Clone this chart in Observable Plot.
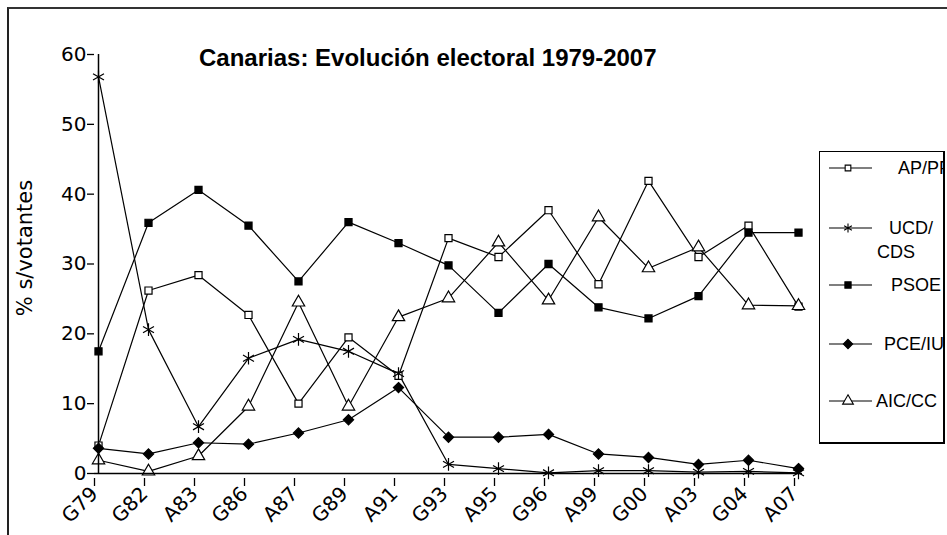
<!DOCTYPE html>
<html><head><meta charset="utf-8">
<script src="https://cdn.jsdelivr.net/npm/d3@7"></script>
<script src="https://cdn.jsdelivr.net/npm/@observablehq/plot@0.6"></script>
<style>
body{margin:0;background:#fff;overflow:hidden}
#wrap{position:relative;width:947px;height:535px;overflow:hidden;background:#fff}
#frame{position:absolute;left:7px;top:7px;width:960px;height:560px;border-left:2px solid #222;border-top:2px solid #333;box-sizing:border-box}
#chart{position:absolute;left:0;top:0}
#title{position:absolute;left:199px;top:46px;font:bold 24px "Liberation Sans",Arial,sans-serif;line-height:1;white-space:nowrap;color:#000}
#ylabel{position:absolute;left:25px;top:248px;transform:translate(-50%,-50%) rotate(-90deg);font:21px "DejaVu Sans",sans-serif;white-space:nowrap;color:#000}
#legend{position:absolute;left:819px;top:151px;width:126px;height:293px;border:1.5px solid #000;border-right-width:2px;border-bottom-width:2px;box-sizing:border-box;overflow:hidden;background:#fff}
.lt{position:absolute;font:18px "Liberation Sans",Arial,sans-serif;line-height:1;white-space:nowrap;color:#000}
</style></head><body><div id="wrap"><div id="frame"></div><div id="chart"></div>
<div id="title">Canarias: Evolución electoral 1979-2007</div>
<div id="ylabel">% s/votantes</div>
<div id="legend"></div></div>
<script>
const labels = ["G79","G82","A83","G86","A87","G89","A91","G93","A95","G96","A99","G00","A03","G04","A07"];
const parties = ["AP/PP","UCD/CDS","PSOE","PCE/IU","AIC/CC"];
const apPP   = [4.0, 26.2, 28.4, 22.7, 10.0, 19.5, 14.0, 33.7, 31.0, 37.7, 27.1, 41.9, 31.0, 35.5, 23.9];
const ucdCDS = [56.8, 20.6, 6.7, 16.5, 19.2, 17.5, 14.3, 1.3, 0.7, 0.1, 0.4, 0.4, 0.2, 0.3, 0.1];
const psoe   = [17.5, 35.9, 40.6, 35.5, 27.5, 36.0, 33.0, 29.8, 23.0, 30.0, 23.8, 22.2, 25.4, 34.5, 34.5];
const pceIU  = [3.6, 2.8, 4.4, 4.2, 5.8, 7.7, 12.3, 5.2, 5.2, 5.6, 2.8, 2.3, 1.3, 1.9, 0.7];
const aicCC  = [1.9, 0.3, 2.5, 9.6, 24.5, 9.6, 22.4, 25.1, 33.1, 24.8, 36.7, 29.4, 32.4, 24.1, 24.0];
const yTicks = [0, 10, 20, 30, 40, 50, 60];

const seriesValues = [apPP, ucdCDS, psoe, pceIU, aicCC];
const data = parties.flatMap((p, i) => seriesValues[i].map((v, j) => ({party: p, label: labels[j], value: v})));

const styles = {
  "AP/PP":   {symbol: "square",   fill: "white", stroke: "black", r: 4.0, lr: 3.2},
  "UCD/CDS": {symbol: "asterisk", fill: "none",  stroke: "black", r: 6.0, lr: 4.2},
  "PSOE":    {symbol: "square",   fill: "black", stroke: "black", r: 4.0, lr: 3.5},
  "PCE/IU":  {symbol: "diamond2", fill: "black", stroke: "black", r: 4.6, lr: 4.2},
  "AIC/CC":  {symbol: "triangle", fill: "white", stroke: "black", r: 4.6, lr: 4.0}
};

const dotMarks = parties.map(p => Plot.dot(data.filter(d => d.party === p), {
  x: "label", y: "value", symbol: () => styles[p].symbol, r: styles[p].r,
  fill: styles[p].fill, stroke: styles[p].stroke, strokeWidth: 1.2
}));

const chart = Plot.plot({
  width: 947, height: 535,
  marginLeft: 94, marginRight: 145, marginTop: 54, marginBottom: 62,
  style: {fontFamily: "DejaVu Sans, sans-serif", background: "transparent", color: "black", overflow: "visible"},
  x: {type: "point", domain: labels, padding: 0},
  y: {domain: [0, 60]},
  symbol: {type: "identity"},
  marks: [
    Plot.line(data, {x: "label", y: "value", z: "party", stroke: "black", strokeWidth: 1.2}),
    ...dotMarks,
    Plot.ruleY([0], {stroke: "black", strokeWidth: 1.5}),
    Plot.ruleX([labels[0]], {y1: 0, y2: 60, stroke: "black", strokeWidth: 1.5}),
    Plot.axisY({ticks: yTicks, tickSize: 7, tickPadding: 1, fontSize: 20, label: null, strokeWidth: 1.3}),
    Plot.axisX({tickSize: 8, tickRotate: -45, tickPadding: 4, dx: -4, dy: 5, fontSize: 20, label: null, strokeWidth: 1.3})
  ]
});
document.getElementById("chart").appendChild(chart);

// Legend (HTML overlay)
const legend = d3.select("#legend");
const L = 819, T = 151;
const legendLayout = [
  {y: 167, text: [["AP/PP", 897, 167]]},
  {y: 227, text: [["UCD/", 888, 227], ["CDS", 876, 251]]},
  {y: 284, text: [["PSOE", 890, 284]]},
  {y: 343, text: [["PCE/IU", 883, 343]]},
  {y: 400, text: [["AIC/CC", 875, 400]]}
];
const symMap = {square: d3.symbolSquare, asterisk: d3.symbolAsterisk, diamond2: d3.symbolDiamond2, triangle: d3.symbolTriangle};
parties.forEach((p, i) => {
  const lay = legendLayout[i], st = styles[p];
  const svg = legend.append("svg").attr("width", 60).attr("height", 20)
    .style("position", "absolute").style("left", (828 - L) + "px").style("top", (lay.y - T - 10) + "px");
  svg.append("line").attr("x1", 0).attr("x2", 43).attr("y1", 10).attr("y2", 10).attr("stroke", "black").attr("stroke-width", 1.2);
  svg.append("path").attr("transform", "translate(19,10)")
    .attr("d", d3.symbol(symMap[st.symbol], Math.PI * st.lr * st.lr)())
    .attr("fill", st.fill).attr("stroke", st.stroke).attr("stroke-width", 1.1);
  lay.text.forEach(([t, x, y]) => {
    legend.append("div").attr("class", "lt").text(t)
      .style("left", (x - L) + "px").style("top", (y - T - 9) + "px");
  });
});
</script></body></html>
